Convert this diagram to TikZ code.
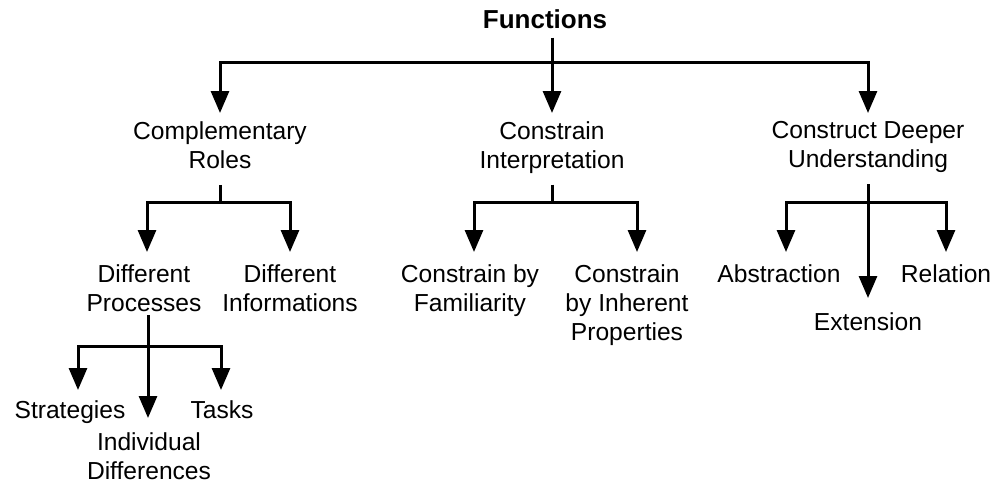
\documentclass[tikz,border=0pt]{standalone}
\usepackage{fontspec}
\setmainfont{Liberation Sans}
\usetikzlibrary{arrows.meta}
\begin{document}
\begin{tikzpicture}[x=0.5pt,y=-0.5pt,
  lbl/.style={font=\fontsize{12.3}{14.5}\selectfont, align=center, inner xsep=0pt, anchor=north},
  ln/.style={line width=1.5pt},
  arr/.style={ln, -{Triangle[width=9pt,length=11pt]}}]
\useasboundingbox (0,0) rectangle (1003,487);
% nodes
\node[font=\fontsize{13}{15}\selectfont\bfseries, inner sep=0pt, anchor=base] (F) at (545,28) {Functions};
\node[lbl, inner ysep=4pt] (CR) at (220,113) {Complementary\\Roles};
\node[lbl, inner ysep=4pt] (CI) at (552,113) {Constrain\\Interpretation};
\node[lbl, inner ysep=4pt] (CDU) at (868,113) {Construct Deeper\\Understanding};
\node[lbl, inner ysep=6.2pt] (DP) at (144,252) {Different\\Processes};
\node[lbl, inner ysep=6.2pt] (DI) at (290,252) {Different\\Informations};
\node[lbl, inner ysep=6.2pt] (CF) at (470,252) {Constrain by\\Familiarity};
\node[lbl, inner ysep=6.2pt] (CIP) at (627,252) {Constrain\\by Inherent\\Properties};
\node[lbl, inner ysep=6.2pt] (AB) at (779,252) {Abstraction};
\node[lbl, inner ysep=6.2pt] (RE) at (946,252) {Relation};
\node[lbl, inner ysep=7.2pt] (EX) at (868,298) {Extension};
\node[lbl, inner ysep=5pt] (ST) at (70,390) {Strategies};
\node[lbl, inner ysep=5pt] (TA) at (222,390) {Tasks};
\node[lbl, inner ysep=7pt] (ID) at (149,418) {Individual\\Differences};
% junctions and bar ends
\coordinate (j0) at (552,62);
\coordinate (b0L) at (220,62);
\coordinate (b0R) at (868,62);
\coordinate (j1) at (220,202);
\coordinate (b1L) at (147,202);
\coordinate (j2) at (552,202);
\coordinate (b2L) at (474,202);
\coordinate (b2R) at (637,202);
\coordinate (j3) at (868,202);
\coordinate (b3L) at (786,202);
\coordinate (j4) at (148,346);
\coordinate (b4L) at (78,346);
\coordinate (b4R) at (221,346);
% level 0
\draw[ln, shorten <=4.5pt] (F.south -| j0) -- (j0);
\draw[arr] (j0) -| (b0L |- CR.north);
\draw[arr] (j0) -| (b0R |- CDU.north);
\draw[arr] (j0) -- (j0 |- CI.north);
% level 1: Complementary Roles
\draw[ln, shorten <=4pt] (CR.south -| j1) -- (j1);
\draw[arr] (j1) -| (b1L |- DP.north);
\draw[arr] (j1) -| (DI.north);
% level 1: Constrain Interpretation
\draw[ln, shorten <=1.5pt] (CI.south -| j2) -- (j2);
\draw[arr] (j2) -| (b2L |- CF.north);
\draw[arr] (j2) -| (b2R |- CIP.north);
% level 1: Construct Deeper Understanding
\draw[ln, shorten <=1.5pt] (CDU.south -| j3) -- (j3);
\draw[arr] (j3) -| (b3L |- AB.north);
\draw[arr] (j3) -| (RE.north);
\draw[arr] (j3) -- (j3 |- EX.north);
% level 2: Different Processes
\draw[ln, shorten <=-4.7pt] (DP.south -| j4) -- (j4);
\draw[arr] (j4) -| (b4L |- ST.north);
\draw[arr] (j4) -| (b4R |- TA.north);
\draw[arr] (j4) -- (j4 |- ID.north);
\end{tikzpicture}
\end{document}
